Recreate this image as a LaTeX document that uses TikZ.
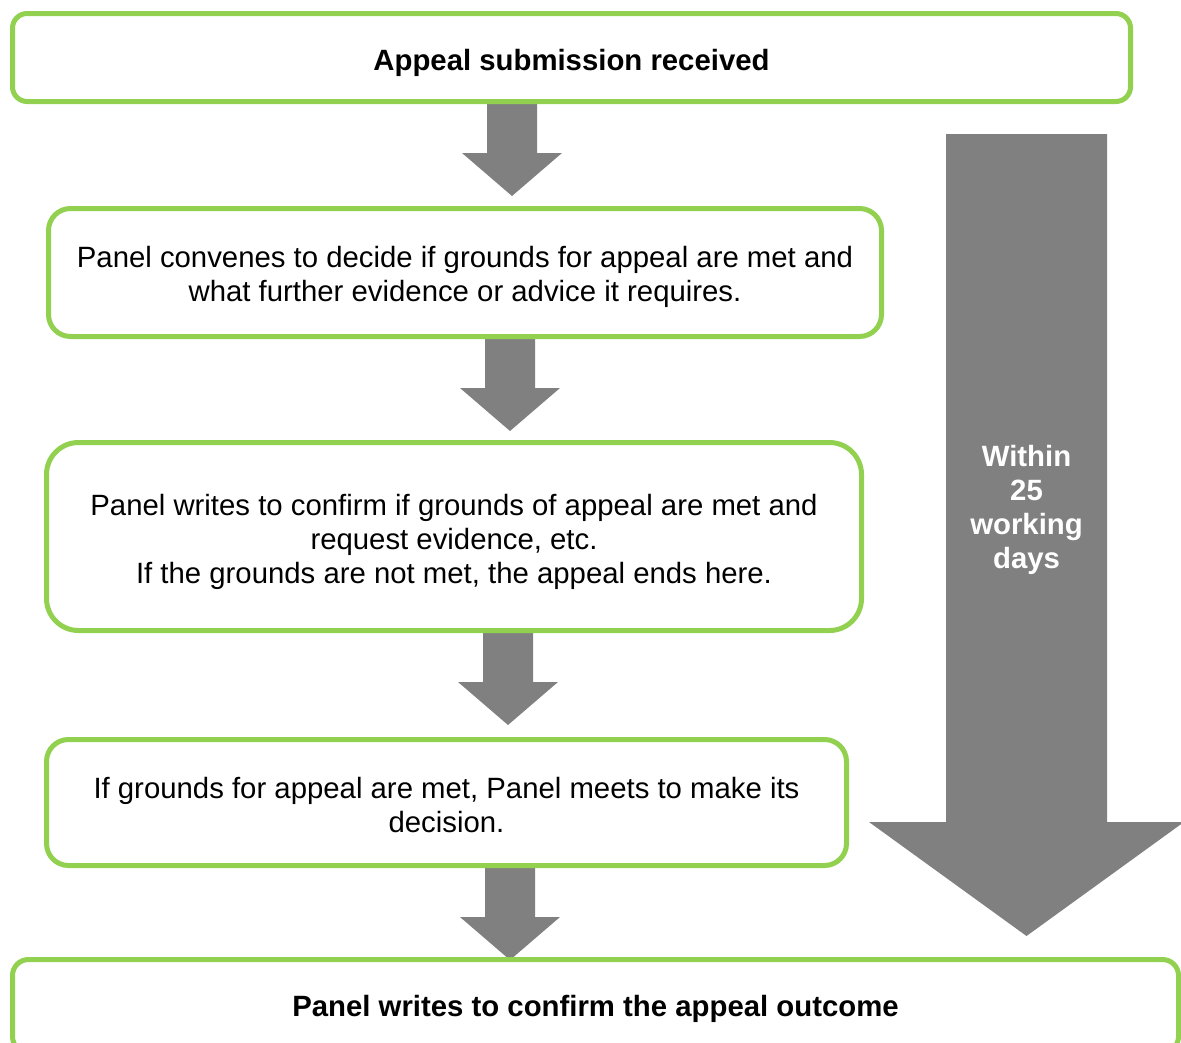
\documentclass[tikz,border=0pt]{standalone}
\usepackage{fontspec}
\setmainfont{Liberation Sans}
\usetikzlibrary{backgrounds}
\definecolor{boxgreen}{RGB}{146,208,80}
\definecolor{arrowgrey}{RGB}{128,128,128}
% block arrow: start, shaft half width, head half width, shaft length, head length
\newcommand{\blockarrow}[5]{%
  \fill[arrowgrey] (#1) ++(-#2,0) -- ++(0,#4) -- ++(#2-#3,0) -- ++(#3,#5)
    -- ++(#3,-#5) -- ++(#2-#3,0) -- ++(0,-#4) -- cycle;}

\begin{document}
\begin{tikzpicture}[x=0.75pt, y=-0.75pt,
  stage/.style={draw=boxgreen, line width=3.75pt, fill=white, align=center,
    inner sep=0pt, font=\fontsize{22}{25.5}\selectfont},
  spanlbl/.style={text=white, align=center, font=\fontsize{22}{25.5}\selectfont\bfseries}]
  \useasboundingbox (0,0) rectangle (1181,1042);
  \clip (0,0) rectangle (1181,1042);

  \node[stage, rounded corners=11pt, minimum width=838.5pt, minimum height=66pt, text height=23.5pt] (recv) at (571.5,57.5)
    {\bfseries Appeal submission received};
  \node[stage, rounded corners=16.5pt, minimum width=624.75pt, minimum height=96pt, text height=48pt] (convene) at (465,272.5)
    {Panel convenes to decide if grounds for appeal are met and\\what further evidence or advice it requires.};
  \node[stage, rounded corners=24pt, minimum width=611.25pt, minimum height=141pt, text height=74.5pt] (confirm) at (454,536.5)
    {Panel writes to confirm if grounds of appeal are met and\\request evidence, etc.\\If the grounds are not met, the appeal ends here.};
  \node[stage, rounded corners=16.5pt, minimum width=600pt, minimum height=94.5pt, text height=45pt] (decide) at (446.5,802.5)
    {If grounds for appeal are met, Panel meets to make its\\decision.};
  \node[stage, rounded corners=12pt, minimum width=874.5pt, minimum height=69.75pt, text height=21pt] (outcome) at (595.5,1006)
    {\bfseries Panel writes to confirm the appeal outcome};

  \begin{scope}[on background layer]
    \blockarrow{512,0 |- recv.south}{25}{50}{49}{43}
    \blockarrow{510,0 |- convene.south}{25}{50}{49}{43}
    \blockarrow{508,0 |- confirm.south}{25}{50}{49}{43}
    \blockarrow{510,0 |- decide.south}{25}{50}{49}{43}
  \end{scope}

  % overall time span
  \coordinate (span) at (1026.5,134);
  \blockarrow{span}{80.5}{157.5}{688}{114}
  \node[spanlbl] (spanlbl) at (1026.5,510) {Within\\25\\working\\days};
\end{tikzpicture}
\end{document}
